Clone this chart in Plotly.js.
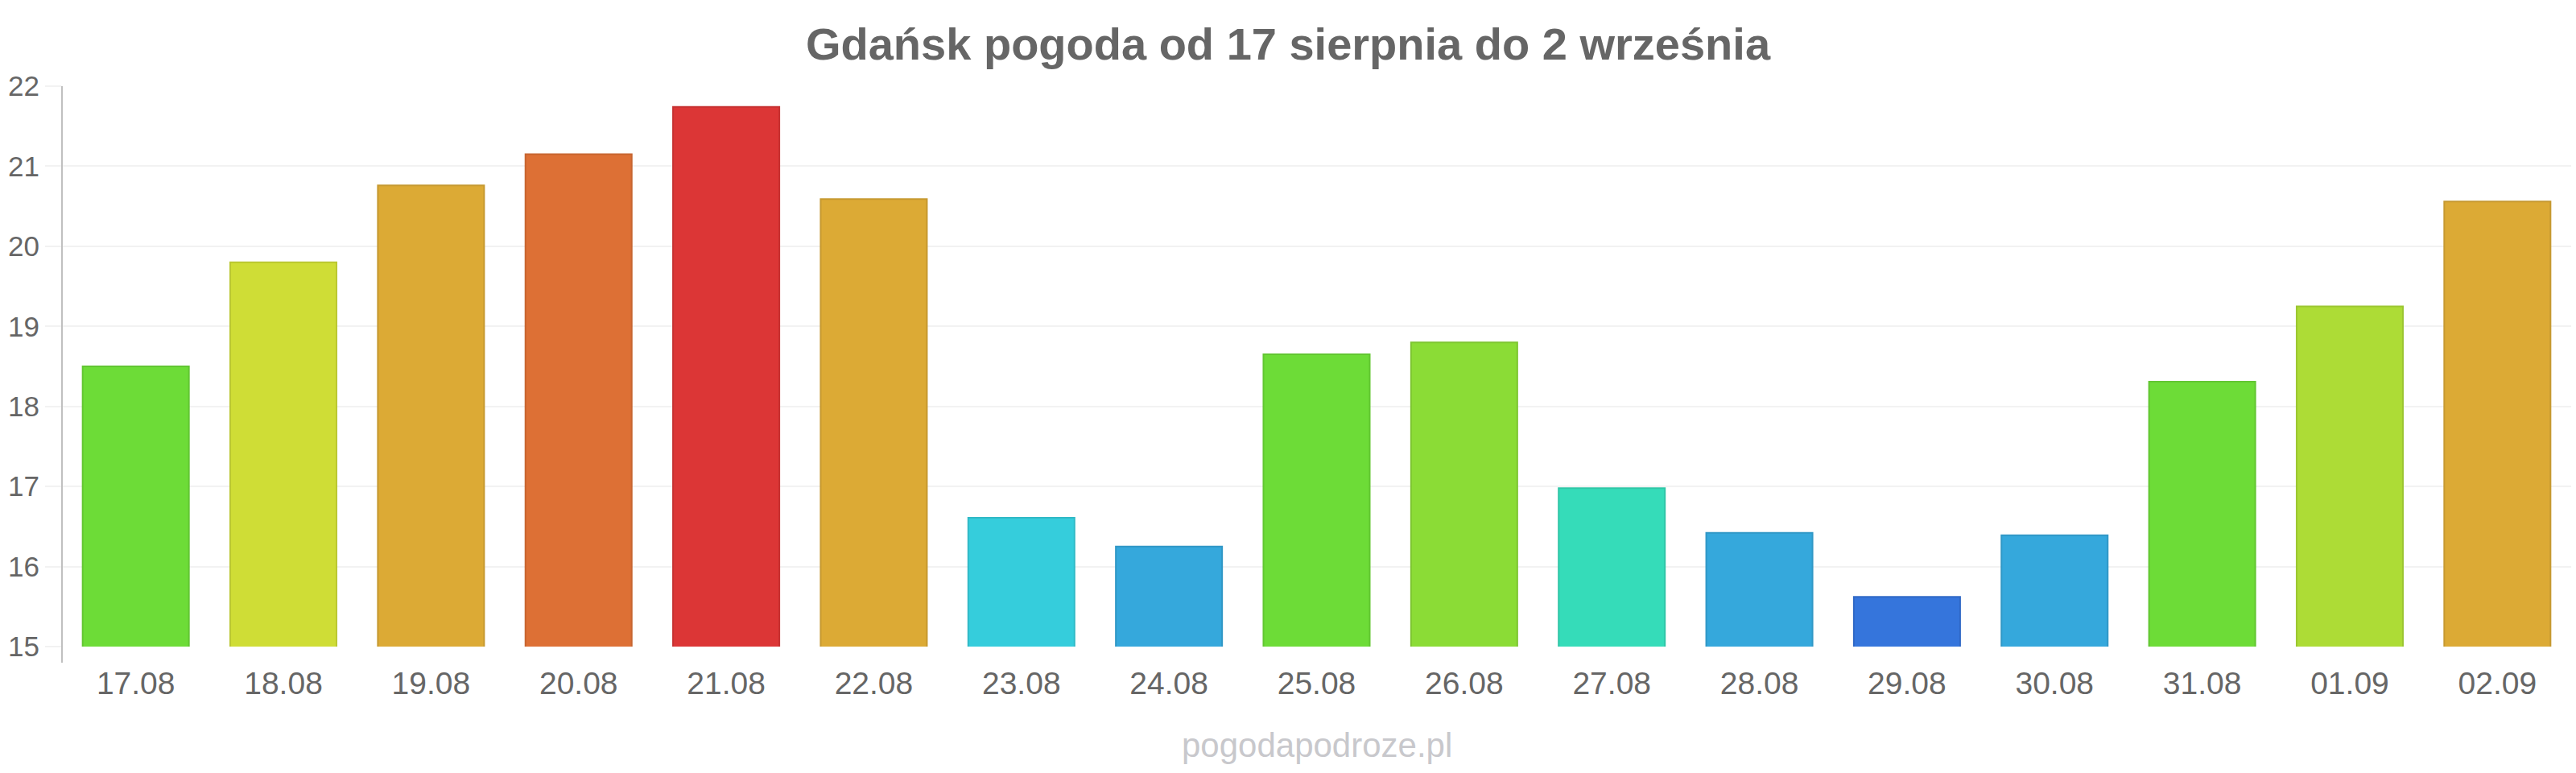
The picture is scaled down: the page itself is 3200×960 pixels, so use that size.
<!DOCTYPE html>
<html>
<head>
<meta charset="utf-8">
<script src="https://cdn.plot.ly/plotly-3.0.1.min.js"></script>
<style>html,body{margin:0;padding:0;background:#fff;}#chart{width:3200px;height:960px;}</style>
</head>
<body>
<div id="chart"></div>
<script>
const days = ["17.08","18.08","19.08","20.08","21.08","22.08","23.08","24.08","25.08","26.08","27.08","28.08","29.08","30.08","31.08","01.09","02.09"];
const temps = [18.5, 19.8, 20.76, 21.15, 21.74, 20.59, 16.61, 16.25, 18.65, 18.8, 16.98, 16.42, 15.62, 16.39, 18.31, 19.25, 20.56];
const barColors = ["#6ddc37","#cfdd36","#dcaa35","#dd7035","#dc3636","#dcaa35","#35cddc","#35a8dc","#6ddc37","#8bdc36","#35dcb9","#35a8dc","#3575dc","#35a8dc","#6ddc37","#addc36","#dcaa35"];
const titleText = "Gdańsk pogoda od 17 sierpnia do 2 września";
const footerText = "pogodapodroze.pl";

function darken(hex, f) {
  const n = parseInt(hex.slice(1), 16);
  const r = Math.round(((n >> 16) & 255) * f), g = Math.round(((n >> 8) & 255) * f), b = Math.round((n & 255) * f);
  return "rgb(" + r + "," + g + "," + b + ")";
}
const lineColors = barColors.map(c => darken(c, 0.9));

const FONT = "Liberation Sans, Arial, sans-serif";
const plotTop = 107, plotBottom = 803, plotH = plotBottom - plotTop;

const trace = {
  type: "bar",
  x: days,
  y: temps,
  marker: { color: barColors, line: { color: lineColors, width: 2 } },
  hoverinfo: "none"
};

const layout = {
  width: 3200,
  height: 960,
  margin: { l: 77, r: 6, t: plotTop, b: 960 - plotBottom, pad: 0 },
  paper_bgcolor: "#ffffff",
  plot_bgcolor: "#ffffff",
  showlegend: false,
  bargap: 0.28,
  font: { family: FONT, color: "#666666" },
  title: {
    text: "<b>" + titleText + "</b>",
    font: { family: FONT, size: 56, color: "#666666" },
    xref: "container", x: 0.5, xanchor: "center",
    yref: "container", y: 1 - 54 / 960, yanchor: "middle"
  },
  xaxis: {
    type: "category",
    showgrid: false, zeroline: false, showline: false,
    ticks: "",
    tickfont: { family: FONT, size: 39, color: "#666666" },
    ticklabelstandoff: 19
  },
  yaxis: {
    range: [15, 22],
    dtick: 1,
    tick0: 15,
    showgrid: true,
    gridcolor: "#f2f2f2",
    gridwidth: 2,
    zeroline: false,
    showline: false,
    ticks: "outside",
    ticklen: 20,
    tickwidth: 2,
    tickcolor: "#f2f2f2",
    tickfont: { family: FONT, size: 35, color: "#666666" },
    ticklabelstandoff: 0
  },
  shapes: [{
    type: "line", xref: "paper", yref: "paper",
    x0: 0, x1: 0, y0: -20 / plotH, y1: 1,
    line: { color: "#c0c0c0", width: 2 }
  }],
  annotations: [{
    text: footerText,
    xref: "paper", x: 0.5, xanchor: "center",
    yref: "paper", y: -(925 - plotBottom) / plotH, yanchor: "middle",
    showarrow: false,
    font: { family: FONT, size: 42, color: "#c8c8cc" }
  }]
};

Plotly.newPlot("chart", [trace], layout, { displayModeBar: false, staticPlot: true });
</script>
</body>
</html>
